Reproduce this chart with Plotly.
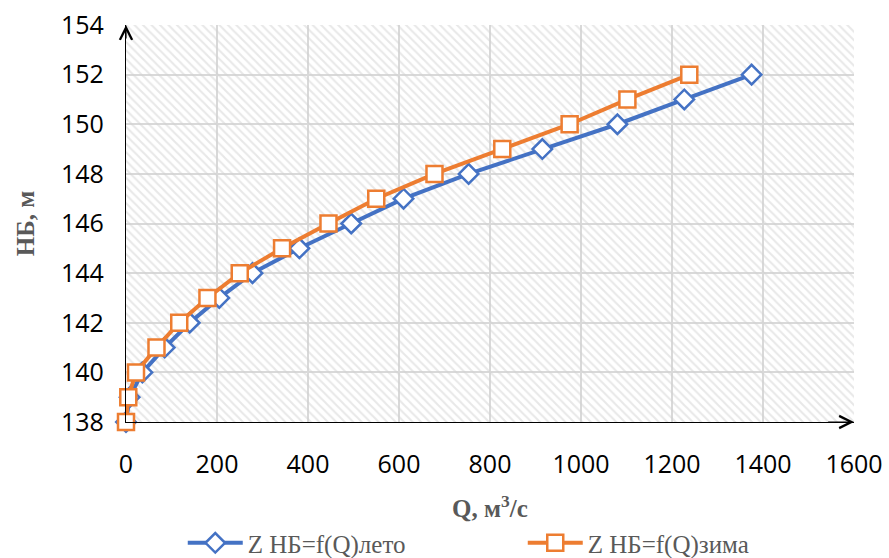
import plotly.graph_objects as go

# Data
z_leto = [138, 139, 140, 141, 142, 143, 144, 145, 146, 147, 148, 149, 150, 151, 152]
q_leto = [0, 8, 36, 85, 140, 205, 278, 381, 495, 610, 753, 915, 1080, 1227, 1375]
z_zima = [138, 139, 140, 141, 142, 143, 144, 145, 146, 147, 148, 149, 150, 151, 152]
q_zima = [0, 5, 22, 67, 117, 179, 250, 343, 445, 550, 678, 827, 975, 1102, 1238]

x_ticks = [0, 200, 400, 600, 800, 1000, 1200, 1400, 1600]
y_ticks = [138, 140, 142, 144, 146, 148, 150, 152, 154]
x_range = [0, 1600]
y_range = [138, 154]

BLUE = "#4472C4"
ORANGE = "#ED7D31"
GRID = "#d9d9d9"
GRAY = "#595959"

fig = go.Figure()

# hatched plot-area background
fig.add_trace(go.Scatter(
    x=[x_range[0], x_range[1], x_range[1], x_range[0], x_range[0]],
    y=[y_range[0], y_range[0], y_range[1], y_range[1], y_range[0]],
    mode="none", fill="toself", fillcolor="rgba(0,0,0,0)",
    fillpattern=dict(shape="\\", fgcolor="#d2d2d2", bgcolor="rgba(0,0,0,0)",
                     size=6, solidity=0.35),
    showlegend=False, hoverinfo="skip",
))

fig.add_trace(go.Scatter(
    x=q_leto, y=z_leto, mode="lines+markers", name="Z НБ=f(Q)лето",
    line=dict(color=BLUE, width=4), cliponaxis=False,
    marker=dict(symbol="diamond", size=15, color="white",
                line=dict(color=BLUE, width=2.5)),
))
fig.add_trace(go.Scatter(
    x=q_zima, y=z_zima, mode="lines+markers", name="Z НБ=f(Q)зима",
    line=dict(color=ORANGE, width=4), cliponaxis=False,
    marker=dict(symbol="square", size=16, color="white",
                line=dict(color=ORANGE, width=2.5)),
))

tickfont = dict(family="Open Sans", size=25, color="black")
titlefont = dict(family="Liberation Serif", size=25, color=GRAY)

fig.update_xaxes(
    range=x_range, tickvals=x_ticks, tickfont=tickfont,
    showgrid=True, gridcolor=GRID, gridwidth=1.5,
    showline=True, linecolor="black", linewidth=1.3,
    zeroline=False, ticks="", ticklabelstandoff=20,
    title=dict(text="<b>Q, м<sup>3</sup>/с</b>", font=titlefont, standoff=20),
)
fig.update_yaxes(
    range=y_range, tickvals=y_ticks, tickfont=tickfont,
    showgrid=True, gridcolor=GRID, gridwidth=1.5,
    showline=True, linecolor="black", linewidth=1.3,
    zeroline=False, ticks="", ticklabelstandoff=16,
    title=dict(text="<b>НБ, м</b>", font=titlefont, standoff=19),
)

# axis arrows
fig.add_annotation(x=x_range[1], y=y_range[0], ax=x_range[1] - 60, ay=y_range[0],
                   xref="x", yref="y", axref="x", ayref="y", text="",
                   showarrow=True, arrowhead=5, arrowsize=2, arrowwidth=1.2,
                   arrowcolor="black")
fig.add_annotation(x=x_range[0], y=y_range[1], ax=x_range[0], ay=y_range[1] - 0.6,
                   xref="x", yref="y", axref="x", ayref="y", text="",
                   showarrow=True, arrowhead=5, arrowsize=2, arrowwidth=1.2,
                   arrowcolor="black")

fig.update_layout(
    width=889, height=558,
    margin=dict(l=126, r=35, t=25, b=136, autoexpand=False),
    plot_bgcolor="white", paper_bgcolor="white",
    legend=dict(orientation="h", x=0.545, xanchor="center", y=-0.305, yanchor="middle",
                font=dict(family="Liberation Serif", size=25, color=GRAY),
                entrywidth=270, entrywidthmode="pixels", itemwidth=55),
)

fig.write_html("out.html")
